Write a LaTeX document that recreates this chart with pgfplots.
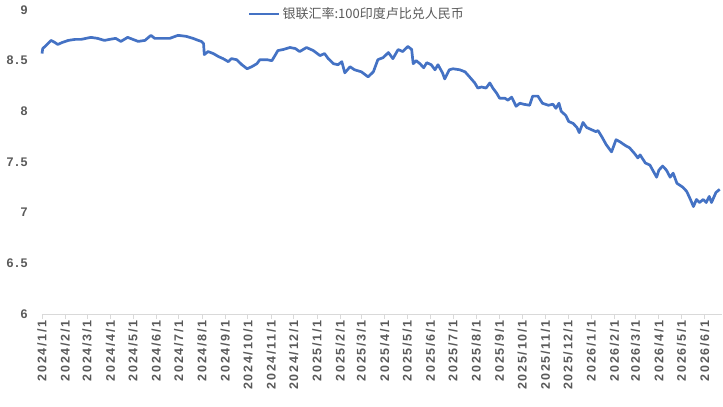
\documentclass[border=0pt]{standalone}
\usepackage{fontspec}
\usepackage{pgfplots}
\pgfplotsset{compat=1.18}
\setmainfont{Liberation Sans}
\newfontfamily\cjk{Noto Sans CJK SC}
\newfontfamily\tickfont[LetterSpace=14]{Liberation Sans Bold}
\definecolor{txt}{HTML}{595959}
\definecolor{ser}{HTML}{4472C4}
\definecolor{axl}{HTML}{D9D9D9}
\begin{document}
\begin{tikzpicture}
\begin{axis}[
  name=ax,
  scale only axis,
  width=680pt, height=304pt,
  xmin=0, xmax=905, ymin=6, ymax=9,
  ytick={6,6.5,7,7.5,8,8.5,9},
  yticklabels={6,6.5,7,7.5,8,8.5,9},
  xtick={0,31,60,91,121,152,182,213,244,274,305,335,366,397,425,456,486,517,547,578,609,639,670,700,731,762,790,821,851,882},
  xticklabels={2024/1/1,2024/2/1,2024/3/1,2024/4/1,2024/5/1,2024/6/1,2024/7/1,2024/8/1,2024/9/1,2024/10/1,2024/11/1,2024/12/1,2025/1/1,2025/2/1,2025/3/1,2025/4/1,2025/5/1,2025/6/1,2025/7/1,2025/8/1,2025/9/1,2025/10/1,2025/11/1,2025/12/1,2026/1/1,2026/2/1,2026/3/1,2026/4/1,2026/5/1,2026/6/1},
  axis x line*=bottom, axis y line*=left,
  x axis line style={draw=axl, line width=0.8pt, -},
  y axis line style={draw=none},
  ytick style={draw=none},
  xtick style={draw=axl, line width=0.8pt},
  tick align=outside,
  major tick length=5pt,
  xticklabel style={rotate=90, anchor=east, font=\tickfont\fontsize{12.5}{13}\selectfont, text=txt, inner sep=1pt},
  yticklabel style={font=\tickfont\fontsize{12.5}{13}\selectfont, text=txt, xshift=-6pt},
  legend style={draw=none, fill=none, at={(rel axis cs:0.463,0.987)}, anchor=center, font=\cjk\fontsize{13}{15}\selectfont, text=txt, inner sep=0pt},
  legend image code/.code={\draw[#1] (0pt,0pt) -- (30pt,0pt);},
  clip=false,
]
\addplot[ser, line width=2.7pt, line join=round] coordinates {
(0,8.57)(1,8.62)(4,8.64)(12,8.70)(17,8.68)(21,8.66)(27,8.68)(35,8.70)(44,8.71)(52,8.71)
(65,8.73)(74,8.72)(83,8.70)(90,8.71)(98,8.72)(105,8.69)(114,8.73)(121,8.71)(128,8.69)(137,8.70)
(145,8.75)(150,8.72)(157,8.72)(170,8.72)(181,8.75)(192,8.74)(201,8.72)(208,8.70)(212,8.69)(215,8.67)
(216,8.56)(221,8.59)(228,8.57)(235,8.54)(241,8.52)(248,8.49)(252,8.52)(259,8.51)(266,8.46)(273,8.42)
(279,8.44)(286,8.47)(290,8.51)(299,8.51)(306,8.50)(310,8.55)(314,8.60)(321,8.61)(330,8.63)(337,8.62)
(343,8.59)(352,8.63)(361,8.60)(370,8.55)(376,8.57)(381,8.52)(388,8.47)(394,8.46)(399,8.49)(403,8.38)
(410,8.44)(416,8.41)(425,8.39)(434,8.34)(441,8.39)(447,8.51)(454,8.53)(461,8.58)(467,8.52)(474,8.61)
(480,8.59)(487,8.64)(492,8.61)(494,8.47)(498,8.50)(503,8.47)(508,8.43)(512,8.48)(518,8.46)(523,8.41)
(527,8.46)(533,8.38)(536,8.32)(542,8.41)(547,8.42)(556,8.41)(563,8.39)(569,8.34)(576,8.28)(580,8.23)
(585,8.24)(591,8.23)(596,8.28)(600,8.23)(605,8.18)(609,8.13)(616,8.13)(620,8.11)(625,8.14)(631,8.05)
(636,8.08)(641,8.07)(649,8.06)(653,8.15)(660,8.15)(666,8.08)(674,8.06)(680,8.07)(684,8.03)(688,8.08)
(691,8.00)(697,7.96)(701,7.90)(707,7.88)(712,7.84)(715,7.79)(720,7.89)(725,7.84)(731,7.82)(737,7.80)
(740,7.81)(745,7.75)(751,7.67)(758,7.60)(764,7.72)(769,7.70)(777,7.66)(782,7.64)(789,7.58)(793,7.54)
(796,7.57)(803,7.49)(809,7.47)(818,7.35)(821,7.42)(826,7.46)(831,7.42)(836,7.35)(840,7.39)(845,7.29)
(853,7.25)(858,7.21)(863,7.13)(867,7.06)(871,7.13)(875,7.10)(880,7.13)(884,7.10)(888,7.16)(891,7.10)
(897,7.20)(902,7.23)
};
\addlegendentry{银联汇率:100印度卢比兑人民币}
\end{axis}
\pgfresetboundingbox
\useasboundingbox ([xshift=-42pt,yshift=-93pt]ax.south west) rectangle ([xshift=1pt,yshift=10pt]ax.north east);
\end{tikzpicture}
\end{document}
